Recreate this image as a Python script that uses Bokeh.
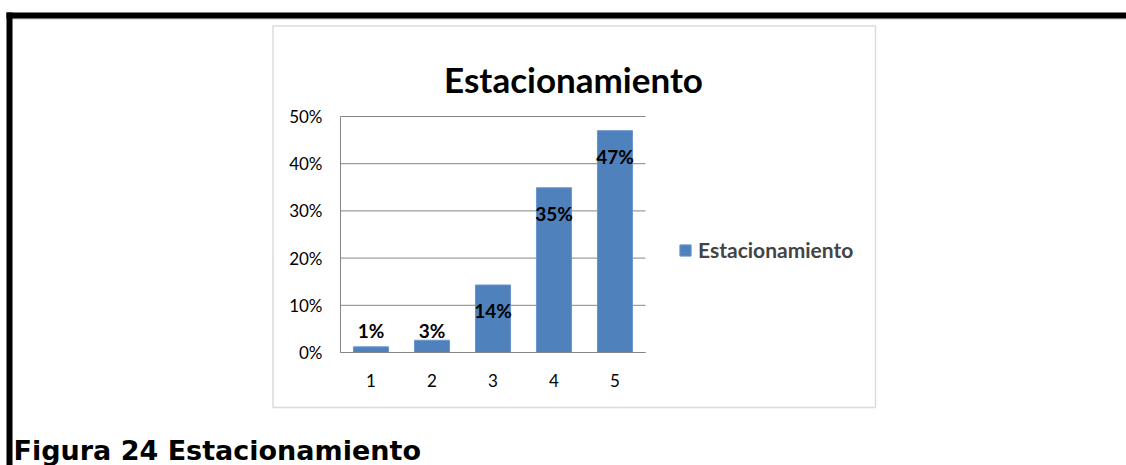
from bokeh.plotting import figure
from bokeh.models import (Range1d, NumeralTickFormatter, Label, BoxAnnotation,
                          Legend, LegendItem, ColumnDataSource, FixedTicker)
from bokeh.core.properties import value
from bokeh.embed import file_html
from bokeh.resources import INLINE

# ---- data ----
categories = ["1", "2", "3", "4", "5"]
values = [0.012, 0.026, 0.143, 0.349, 0.470]
value_labels = ["1%", "3%", "14%", "35%", "47%"]
series_name = "Estacionamiento"
title_text = "Estacionamiento"
caption_text = "Figura 24 Estacionamiento"
y_ticks = [0.0, 0.1, 0.2, 0.3, 0.4, 0.5]

# ---- layout (canvas pixels, origin top-left) ----
W, H = 1126, 465
PL, PR, PT, PB = 340, 645, 116, 352          # plot area in canvas pixels
Y_MIN, Y_MAX = 0.0, 0.5
BAR_BLUE = "#4F81BD"
GREY = "#868686"

n = len(categories)
xpos = [i + 1 for i in range(n)]
x_lo, x_hi = 0.5, n + 0.5
ppx = (PR - PL) / (x_hi - x_lo)               # pixels per x unit
ppy = (PB - PT) / (Y_MAX - Y_MIN)             # pixels per y unit

p = figure(width=W, height=H,
           x_range=Range1d(x_lo - PL / ppx, x_hi + (W - PR) / ppx),
           y_range=Range1d(Y_MIN - (H - PB) / ppy, Y_MAX + PT / ppy),
           output_backend="svg", toolbar_location=None,
           min_border_left=0, min_border_right=0, min_border_top=0, min_border_bottom=0)
p.outline_line_color = None
p.background_fill_color = "white"
p.border_fill_color = "white"
p.xgrid.visible = False
p.ygrid.visible = False

def sx(x):
    return x

def sy(y):
    return H - y

SCREEN = dict(left_units="screen", right_units="screen", top_units="screen", bottom_units="screen")

# chart box
p.add_layout(BoxAnnotation(left=sx(272.5), right=sx(875), top=sy(25.5), bottom=sy(407), **SCREEN,
                           fill_alpha=0, line_color="#8c8c8c", line_width=1.5, level="underlay"))
# page borders
p.add_layout(BoxAnnotation(left=sx(6), right=sx(1126), top=sy(18), bottom=sy(19), **SCREEN,
                           fill_color="#c8c8c8", fill_alpha=1, line_alpha=0))
p.add_layout(BoxAnnotation(left=sx(6), right=sx(1126), top=sy(12), bottom=sy(18), **SCREEN,
                           fill_color="black", fill_alpha=1, line_alpha=0))
p.add_layout(BoxAnnotation(left=sx(6), right=sx(12), top=sy(12), bottom=sy(465), **SCREEN,
                           fill_color="black", fill_alpha=1, line_alpha=0))

# gridlines (within plot area)
p.segment(x0=[x_lo] * len(y_ticks), x1=[x_hi] * len(y_ticks), y0=y_ticks, y1=y_ticks,
          line_color=GREY, line_width=1)

src = ColumnDataSource(dict(x=xpos, val=values, lab=value_labels,
                            ly=[max(v - 0.055, 0.046) for v in values]))
bars = p.vbar(x="x", top="val", bottom=0, width=0.575, source=src, fill_color=BAR_BLUE,
              line_color="#6a96cc", line_width=1)
p.text(x="x", y="ly", text="lab", source=src, text_align="center", text_baseline="middle",
       text_font=value("Lato"), text_font_style="bold", text_font_size="19px", text_color="black")

# axes fixed inside the canvas
xa = p.xaxis[0]
ya = p.yaxis[0]
xa.fixed_location = Y_MIN
xa.bounds = (x_lo, x_hi)
xa.ticker = FixedTicker(ticks=xpos)
xa.major_label_overrides = {x: c for x, c in zip(xpos, categories)}
ya.fixed_location = x_lo
ya.bounds = (Y_MIN, Y_MAX)
ya.ticker = FixedTicker(ticks=y_ticks)
ya.formatter = NumeralTickFormatter(format="0%")
for ax in (xa, ya):
    ax.axis_line_color = GREY
    ax.axis_line_width = 1
    ax.major_tick_in = 0
    ax.major_tick_out = 0
    ax.minor_tick_line_color = None
    ax.major_label_text_font = "Lato"
    ax.major_label_text_font_size = "17px"
    ax.major_label_text_color = "black"
ya.major_label_standoff = 18
xa.major_label_standoff = 21

# legend
legend = Legend(items=[LegendItem(label=series_name, renderers=[bars])],
                location=(sx(678), sy(262)), padding=0, margin=0,
                border_line_alpha=0, background_fill_alpha=0,
                glyph_width=14, glyph_height=14, label_standoff=6,
                label_text_font="Lato", label_text_font_style="bold", label_text_font_size="21px")
p.add_layout(legend)

# title and caption
p.add_layout(Label(x=sx(573), y=sy(78), x_units="screen", y_units="screen", text=title_text,
                   text_align="center", text_baseline="alphabetic", text_font="Lato",
                   text_font_style="bold", text_font_size="35px", text_color="black"))
p.add_layout(Label(x=sx(13), y=sy(450), x_units="screen", y_units="screen", text=caption_text,
                   text_align="left", text_baseline="alphabetic", text_font="DejaVu Sans",
                   text_font_style="bold", text_font_size="27px", text_color="black"))

open("out.html", "w").write(file_html(p, INLINE))
